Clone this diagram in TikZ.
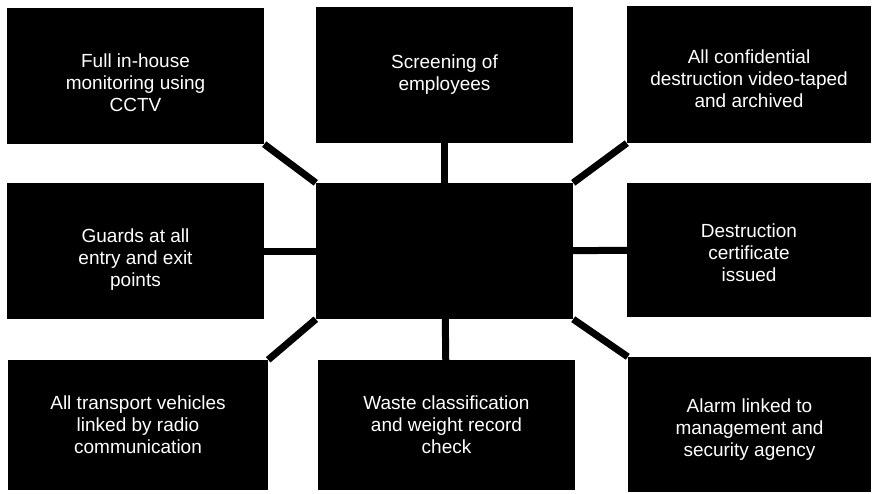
\documentclass[tikz,border=0pt]{standalone}
\usepackage{fontspec}
\setmainfont{Liberation Sans}
\usepackage{xcolor}
\definecolor{caja}{HTML}{000000}
\definecolor{texto}{HTML}{FFFFFF}
% push a text block down inside its box
\newcommand{\bajar}[1]{\rule{0pt}{#1}}

\begin{document}
\begin{tikzpicture}[x=1pt,y=-1pt,
    box/.style={fill=caja,text=texto,align=center,inner sep=0pt,
      font=\fontsize{19}{22}\selectfont},
    link/.style={draw=caja,line width=7pt}]
      \useasboundingbox (0,0) rectangle (872,493);
      % top row
      \node[box,minimum width=257pt,minimum height=136pt] (monitoring) at (135.5,76) {\bajar{28pt}Full in-house\\monitoring using\\CCTV};
      \node[box,minimum width=257pt,minimum height=136pt] (screening) at (444.5,75) {Screening of\\employees};
      \node[box,minimum width=244pt,minimum height=137pt] (archive) at (749,74.5) {\bajar{22pt}All confidential\\destruction video-taped\\and archived};
      % middle row
      \node[box,minimum width=257pt,minimum height=136pt] (guards) at (135.5,251) {\bajar{30pt}Guards at all\\entry and exit\\points};
      \node[box,minimum width=257pt,minimum height=136pt] (centre) at (444.5,251) {};
      \node[box,minimum width=244pt,minimum height=134pt] (certificate) at (749,250) {\bajar{20pt}Destruction\\certificate\\issued};
      % bottom row
      \node[box,minimum width=260pt,minimum height=130pt] (transport) at (138,425) {All transport vehicles\\linked by radio\\communication};
      \node[box,minimum width=257pt,minimum height=130pt] (waste) at (446.5,425) {Waste classification\\and weight record\\check};
      \node[box,minimum width=243pt,minimum height=135pt] (alarm) at (749.5,424.5) {\bajar{24pt}Alarm linked to\\management and\\security agency};
      % connectors
      \draw[link] (monitoring.south east) -- (centre.north west);
      \draw[link] (screening) -- (centre);
      \draw[link] (archive.south west) -- (centre.north east);
      \draw[link] (guards) -- (centre);
      \draw[link] (certificate) -- (centre);
      \draw[link] (transport.north east) -- (centre.south west);
      \draw[link] (waste) -- (centre);
      \draw[link] (alarm.north west) -- (centre.south east);
    \end{tikzpicture}
\end{document}
